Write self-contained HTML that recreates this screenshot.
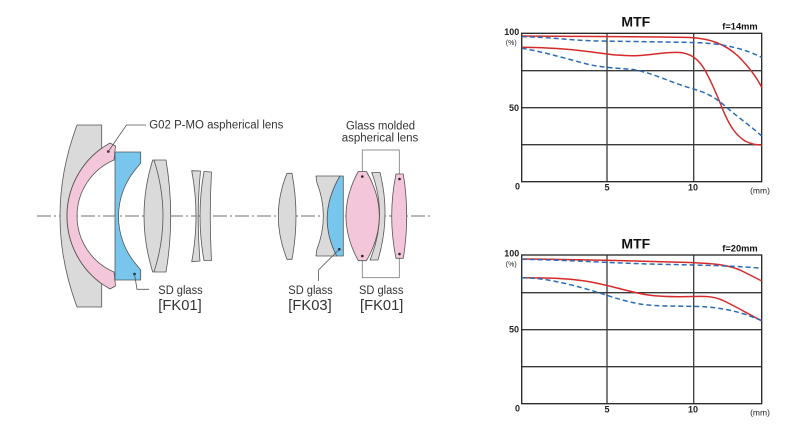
<!DOCTYPE html>
<html><head><meta charset="utf-8"><style>
html,body{margin:0;padding:0;background:#fff;}
svg{display:block;}
text{font-family:"Liberation Sans",Arial,sans-serif;}
</style></head><body>
<svg width="789" height="443" viewBox="0 0 789 443" xmlns="http://www.w3.org/2000/svg">
<rect width="789" height="443" fill="#fff"/>

<!-- optical axis -->
<line x1="37" y1="216" x2="430" y2="216" stroke="#444" stroke-width="0.8" stroke-dasharray="14 3 2 3"/>

<!-- bracket -->
<rect x="362.3" y="150" width="37" height="127.7" fill="none" stroke="#777" stroke-width="0.8"/>

<g stroke="#555" stroke-width="0.8" stroke-linejoin="round">
<path d="M77,125 L101.7,125 L101.7,148.2 A83.5,83.5 0 0 0 101.7,283.8 L101.7,307 L77,307 Q43,216 77,125 Z" fill="#dadada"/>
<path d="M110,143 L115.5,146 L114,160 A60.9,60.9 0 0 0 114,272 L115.5,286 L110,289 A83.5,83.5 0 0 1 110,143 Z" fill="#f3c6da"/>
<path d="M115,152 L140.7,152 L140.7,163 L135,170 A73.8,73.8 0 0 0 135,263 L140.7,270 L140.7,280 L115,280 Z" fill="#78c6ee"/>
<path d="M152.7,160 L166,160 Q175.4,216 166,272 L152.7,272 Q135.3,216 152.7,160 Z" fill="#dadada"/>
<path d="M154,160 Q172,216 154,272" fill="none"/>
<path d="M191.7,170.7 L200.5,171 Q196.1,216 200,261 L191.7,261.7 Q200.3,216 191.7,170.7 Z" fill="#dadada"/>
<path d="M204,171.5 L211.5,172 Q209,216 211.5,260.5 L204,260.5 Q196,216 204,171.5 Z" fill="#dadada"/>
<path d="M287,173.3 L292,173.3 Q300,216 292,259.3 L287,259.3 Q269.6,216 287,173.3 Z" fill="#dadada"/>
<path d="M316,176 L340,176 Q316.25,216 336.7,256 L316,256 L316.7,250 Q330,216 316.7,182 Z" fill="#dadada"/>
<path d="M340,176 L343.3,176 L343.3,256 L336.7,256 Q316.25,216 340,176 Z" fill="#78c6ee"/>
<path d="M371.7,172.5 L380,172.5 Q391,216 378,260 L370,260 Q388.2,216 371.7,172.5 Z" fill="#dadada"/>
<path d="M358.3,171.5 L366.5,171.5 Q392.1,216 366.5,260.7 L358.3,260.7 Q333.7,216 358.3,171.5 Z" fill="#f3c6da"/>
<path d="M396,174 L403.3,174 Q410.1,216 403.3,258.3 L396,258.3 Q387.4,216 396,174 Z" fill="#f3c6da"/>
</g>

<g fill="#222">
<circle cx="108.3" cy="151.5" r="1.3"/>
<circle cx="134.5" cy="274" r="1.3"/>
<circle cx="339.3" cy="249.3" r="1.3"/>
<circle cx="362.3" cy="176.5" r="1.3"/>
<circle cx="362.3" cy="256" r="1.3"/>
<circle cx="399.5" cy="179" r="1.3"/>
<circle cx="399.5" cy="254" r="1.3"/>
</g>

<g fill="none" stroke="#555" stroke-width="0.8">
<polyline points="108.3,151.5 126.5,125 146,125"/>
<polyline points="134.5,274 137,289.3 149,289.3"/>
<polyline points="339.3,249.3 318.5,270 318.5,281"/>
</g>

<g fill="#333" font-size="11.5">
<text x="149.3" y="128.5" textLength="134" lengthAdjust="spacingAndGlyphs">G02 P-MO aspherical lens</text>
<text x="346" y="129.3" textLength="69" lengthAdjust="spacingAndGlyphs">Glass molded</text>
<text x="341.7" y="141.7" textLength="76.6" lengthAdjust="spacingAndGlyphs">aspherical lens</text>
<text x="158.3" y="294" textLength="44.4" lengthAdjust="spacingAndGlyphs">SD glass</text>
<text x="288.3" y="294" textLength="44.4" lengthAdjust="spacingAndGlyphs">SD glass</text>
<text x="359" y="294" textLength="44.4" lengthAdjust="spacingAndGlyphs">SD glass</text>
</g>
<g fill="#333" font-size="14.5">
<text x="158.3" y="310" textLength="43.4" lengthAdjust="spacingAndGlyphs">[FK01]</text>
<text x="288.3" y="310" textLength="43.4" lengthAdjust="spacingAndGlyphs">[FK03]</text>
<text x="360" y="310" textLength="43.4" lengthAdjust="spacingAndGlyphs">[FK01]</text>
</g>

<!-- ===== MTF chart 1 ===== -->
<g>
<text x="635.8" y="26.7" font-size="14" font-weight="bold" text-anchor="middle" fill="#111">MTF</text>
<text x="757.7" y="29.5" font-size="9.3" font-weight="bold" text-anchor="end" fill="#111">f=14mm</text>
<text x="519.3" y="35" font-size="9" font-weight="bold" text-anchor="end" fill="#222">100</text>
<text x="516.7" y="45" font-size="7" text-anchor="end" fill="#222">(%)</text>
<text x="519" y="110.8" font-size="9" font-weight="bold" text-anchor="end" fill="#222">50</text>
<text x="517.5" y="189.5" font-size="9" font-weight="bold" text-anchor="middle" fill="#222">0</text>
<text x="607" y="190.5" font-size="9" font-weight="bold" text-anchor="middle" fill="#222">5</text>
<text x="693" y="190.5" font-size="9" font-weight="bold" text-anchor="middle" fill="#222">10</text>
<text x="760" y="193.5" font-size="8.5" text-anchor="middle" fill="#222">(mm)</text>
<g stroke="#3a3a3a" stroke-width="1.3" fill="none">
<line x1="521.7" y1="70.7" x2="761.7" y2="70.7"/>
<line x1="521.7" y1="107.7" x2="761.7" y2="107.7"/>
<line x1="521.7" y1="144.7" x2="761.7" y2="144.7"/>
<line x1="607" y1="33.3" x2="607" y2="181.7"/>
<line x1="693.7" y1="33.3" x2="693.7" y2="181.7"/>
<rect x="521.7" y="33.3" width="240" height="148.4" stroke="#222" stroke-width="1.3"/>
</g>
<g fill="none" stroke="#d62a2a" stroke-width="1.5">
<path d="M521.7,36 C580,36.5 650,36.5 690,37.5 C710,38.5 725,44 738,56 C750,68 757,78 761.7,87.3"/>
<path d="M521.7,47.3 C545,47.5 565,48.5 590,51.7 C610,54.5 625,56.5 640,55.5 C655,54.5 668,51.5 680,52.5 C690,53.5 697,58 703,67 C710,78 717,95 723,110 C730,127 736,135 745,141 C752,144.5 757,145 761.7,145"/>
</g>
<g fill="none" stroke="#2b6cb3" stroke-width="1.5" stroke-dasharray="5 3">
<path d="M521.7,36.7 C550,37 570,40.5 600,41 C640,41.7 680,42 700,42.8 C725,44 745,49 761.7,57.3"/>
<path d="M521.7,48.3 C540,51 560,57 585,63.5 C600,67.5 615,68 633,69.5 C650,72 670,82 690,88 C705,92 715,97 725,106 C740,119 752,127 761.7,136"/>
</g>
</g>

<!-- ===== MTF chart 2 ===== -->
<g>
<text x="635.8" y="248.4" font-size="14" font-weight="bold" text-anchor="middle" fill="#111">MTF</text>
<text x="757.7" y="251.5" font-size="9.3" font-weight="bold" text-anchor="end" fill="#111">f=20mm</text>
<text x="519.3" y="256.7" font-size="9" font-weight="bold" text-anchor="end" fill="#222">100</text>
<text x="516.7" y="266.7" font-size="7" text-anchor="end" fill="#222">(%)</text>
<text x="519" y="332.5" font-size="9" font-weight="bold" text-anchor="end" fill="#222">50</text>
<text x="517.5" y="411.5" font-size="9" font-weight="bold" text-anchor="middle" fill="#222">0</text>
<text x="607" y="412.7" font-size="9" font-weight="bold" text-anchor="middle" fill="#222">5</text>
<text x="693" y="412.7" font-size="9" font-weight="bold" text-anchor="middle" fill="#222">10</text>
<text x="760" y="415.5" font-size="8.5" text-anchor="middle" fill="#222">(mm)</text>
<g stroke="#3a3a3a" stroke-width="1.3" fill="none">
<line x1="521.7" y1="292.7" x2="761.7" y2="292.7"/>
<line x1="521.7" y1="329.7" x2="761.7" y2="329.7"/>
<line x1="521.7" y1="366.7" x2="761.7" y2="366.7"/>
<line x1="607" y1="255" x2="607" y2="403.7"/>
<line x1="693.7" y1="255" x2="693.7" y2="403.7"/>
<rect x="521.7" y="255" width="240" height="148.7" stroke="#222" stroke-width="1.3"/>
</g>
<g fill="none" stroke="#d62a2a" stroke-width="1.5">
<path d="M521.7,259 C580,259.5 640,261 690,262.5 C715,263.5 730,265 742,271 C750,275 756,278 761.7,281"/>
<path d="M521.7,277.7 C545,277.7 565,278 585,281 C610,285 625,291 645,294.5 C660,297 675,297 693,296.5 C708,296 715,297 722,300 C735,306 750,315 761.7,320.7"/>
</g>
<g fill="none" stroke="#2b6cb3" stroke-width="1.5" stroke-dasharray="5 3">
<path d="M521.7,259.3 C570,260 620,263.5 660,264.3 C700,265 740,266 761.7,268.3"/>
<path d="M521.7,277.7 C545,278 565,283 590,290 C610,296 625,302 645,304.8 C665,306.5 680,306 700,306.5 C720,307.5 740,311 761.7,320.7"/>
</g>
</g>
</svg>
</body></html>
